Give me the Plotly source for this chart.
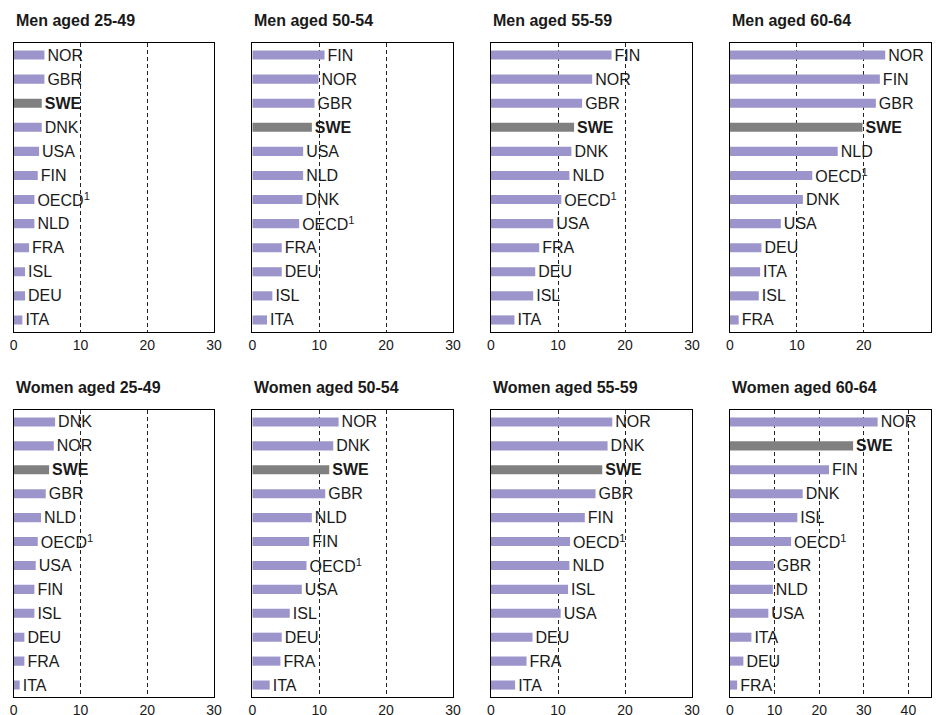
import plotly.graph_objects as go

# ---- data ----
titles = ["Men aged 25-49", "Men aged 50-54", "Men aged 55-59", "Men aged 60-64",
          "Women aged 25-49", "Women aged 50-54", "Women aged 55-59", "Women aged 60-64"]

men_25_49_cat = ["NOR", "GBR", "SWE", "DNK", "USA", "FIN", "OECD", "NLD", "FRA", "ISL", "DEU", "ITA"]
men_25_49_val = [4.6, 4.6, 4.2, 4.2, 3.8, 3.6, 3.1, 3.1, 2.3, 1.7, 1.7, 1.3]

men_50_54_cat = ["FIN", "NOR", "GBR", "SWE", "USA", "NLD", "DNK", "OECD", "FRA", "DEU", "ISL", "ITA"]
men_50_54_val = [10.8, 9.9, 9.3, 8.9, 7.6, 7.6, 7.5, 7.0, 4.4, 4.4, 3.0, 2.2]

men_55_59_cat = ["FIN", "NOR", "GBR", "SWE", "DNK", "NLD", "OECD", "USA", "FRA", "DEU", "ISL", "ITA"]
men_55_59_val = [18.0, 15.1, 13.6, 12.4, 12.0, 11.7, 10.5, 9.3, 7.2, 6.6, 6.3, 3.5]

men_60_64_cat = ["NOR", "FIN", "GBR", "SWE", "NLD", "OECD", "DNK", "USA", "DEU", "ITA", "ISL", "FRA"]
men_60_64_val = [23.2, 22.4, 21.8, 19.8, 16.1, 12.3, 10.9, 7.6, 4.7, 4.5, 4.3, 1.3]

women_25_49_cat = ["DNK", "NOR", "SWE", "GBR", "NLD", "OECD", "USA", "FIN", "ISL", "DEU", "FRA", "ITA"]
women_25_49_val = [6.2, 6.0, 5.3, 4.8, 4.1, 3.6, 3.3, 3.1, 3.1, 1.6, 1.6, 0.9]

women_50_54_cat = ["NOR", "DNK", "SWE", "GBR", "NLD", "FIN", "OECD", "USA", "ISL", "DEU", "FRA", "ITA"]
women_50_54_val = [12.9, 12.1, 11.5, 10.9, 8.9, 8.5, 8.1, 7.4, 5.6, 4.4, 4.2, 2.6]

women_55_59_cat = ["NOR", "DNK", "SWE", "GBR", "FIN", "OECD", "NLD", "ISL", "USA", "DEU", "FRA", "ITA"]
women_55_59_val = [18.1, 17.4, 16.6, 15.6, 14.0, 11.8, 11.7, 11.5, 10.4, 6.2, 5.3, 3.6]

women_60_64_cat = ["NOR", "SWE", "FIN", "DNK", "ISL", "OECD", "GBR", "NLD", "USA", "ITA", "DEU", "FRA"]
women_60_64_val = [33.1, 27.6, 22.2, 16.3, 15.1, 13.7, 9.8, 9.6, 8.6, 4.8, 3.0, 1.6]

panels_cat = [men_25_49_cat, men_50_54_cat, men_55_59_cat, men_60_64_cat,
              women_25_49_cat, women_50_54_cat, women_55_59_cat, women_60_64_cat]
panels_val = [men_25_49_val, men_50_54_val, men_55_59_val, men_60_64_val,
              women_25_49_val, women_50_54_val, women_55_59_val, women_60_64_val]
x_max = [30, 30, 30, 30, 30, 30, 30, 45]
x_ticks = [[0, 10, 20, 30]] * 7 + [[0, 10, 20, 30, 40]]

# ---- layout geometry (pixels) ----
W, H = 938, 715
col_px = [(13.7, 214), (252.3, 453), (491, 692), (730, 930.7)]
row_px = [(43, 332), (410, 697)]
title_y_px = [20, 387]

PURPLE = "#9c95cb"
GREY = "#808080"
FONT = "Liberation Sans, Arial, Helvetica, sans-serif"

fig = go.Figure()
layout_axes = {}
annotations = []

for i in range(8):
    r, c = divmod(i, 4)
    n = i + 1
    xa = "x" if n == 1 else f"x{n}"
    ya = "y" if n == 1 else f"y{n}"
    cats = panels_cat[i]
    vals = panels_val[i]
    colors = [GREY if k == "SWE" else PURPLE for k in cats]
    texts = []
    for k in cats:
        if k == "SWE":
            texts.append("<b>SWE</b>")
        elif k == "OECD":
            texts.append("OECD<sup>1</sup>")
        else:
            texts.append(k)
    fig.add_trace(go.Bar(
        x=vals, y=cats, orientation="h",
        marker=dict(color=colors, line=dict(width=0)),
        width=0.38,
        text=texts, textposition="outside", constraintext="none",
        textfont=dict(family=FONT, size=16, color="#1a1a1a"),
        cliponaxis=False, hoverinfo="skip",
        xaxis=xa, yaxis=ya, showlegend=False,
    ))
    x0, x1 = col_px[c]
    y0, y1 = row_px[r]
    layout_axes["xaxis" if n == 1 else f"xaxis{n}"] = dict(
        domain=[x0 / W, x1 / W], anchor=ya, automargin=False,
        range=[0, x_max[i]], tickvals=x_ticks[i],
        showgrid=True, gridcolor="#222222", gridwidth=1, griddash="4px,3px",
        showline=True, linecolor="black", linewidth=1, mirror=True,
        zeroline=False, ticks="", fixedrange=True,
        tickfont=dict(family=FONT, size=14, color="#1a1a1a"),
    )
    layout_axes["yaxis" if n == 1 else f"yaxis{n}"] = dict(
        domain=[1 - y1 / H, 1 - y0 / H], anchor=xa, automargin=False,
        type="category", categoryorder="array", categoryarray=cats,
        autorange="reversed", showticklabels=False, showgrid=False,
        showline=True, linecolor="black", linewidth=1, mirror=True,
        zeroline=False, ticks="", fixedrange=True,
    )
    annotations.append(dict(
        text=f"<b>{titles[i]}</b>", xref="paper", yref="paper",
        x=x0 / W, y=1 - title_y_px[r] / H, xanchor="left", yanchor="middle",
        showarrow=False, font=dict(family=FONT, size=16, color="#1a1a1a"),
    ))

fig.update_layout(
    width=W, height=H,
    margin=dict(l=0, r=0, t=0, b=0, autoexpand=False),
    paper_bgcolor="white", plot_bgcolor="white",
    annotations=annotations,
    font=dict(family=FONT),
    **layout_axes,
)

fig.write_html(
    "out.html",
    config={"displayModeBar": False},
    post_script="document.body.style.margin='0';document.body.style.overflow='hidden';",
)
